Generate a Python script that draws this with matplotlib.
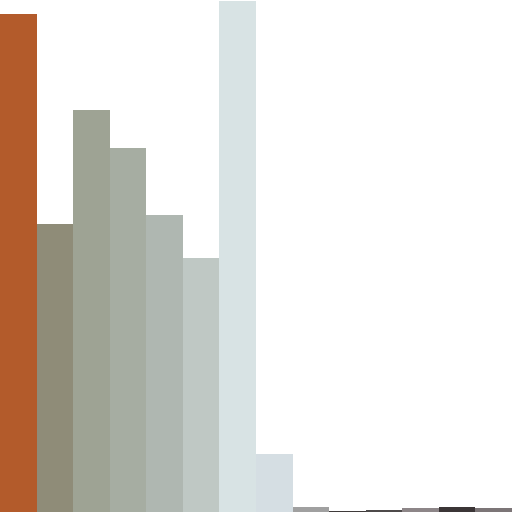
import matplotlib
matplotlib.use("Agg")
import matplotlib.pyplot as plt

# Bar values (pixel heights out of 512)
categories = list(range(14))
values = [498, 288, 402, 364, 297, 254, 511, 58, 5, 1.3, 2.3, 4, 5, 4]
colors = ["#B35B2B", "#8F8C78", "#9EA394", "#A6ADA2", "#AFB7B1", "#BFC8C4",
          "#D8E3E4", "#D5DEE3", "#A0A0A0", "#3F3A3A", "#4D4A4A", "#8D8688",
          "#3B3536", "#7C7577"]

fig = plt.figure(figsize=(5.12, 5.12), dpi=100)
ax = fig.add_axes([0, 0, 1, 1])
ax.bar(categories, values, width=1.0, color=colors, linewidth=0)
ax.set_xlim(-0.5, len(categories) - 0.5)
ax.set_ylim(0, 512)
ax.axis("off")
fig.savefig("out.png", dpi=100)
